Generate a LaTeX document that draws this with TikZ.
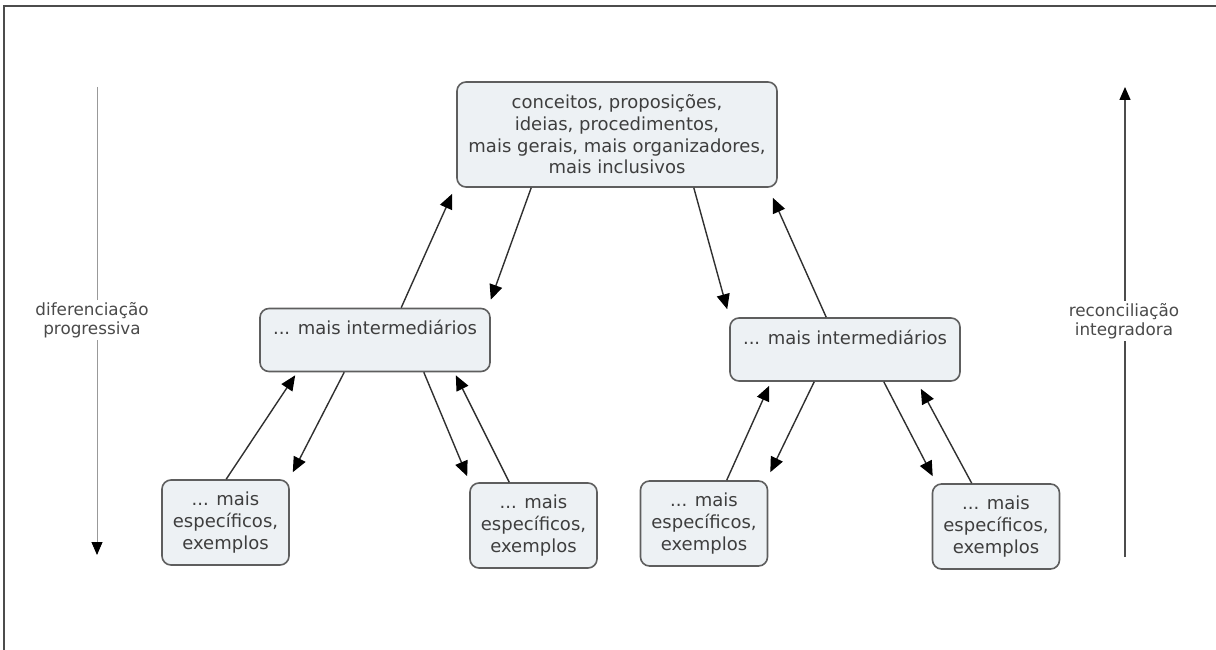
\documentclass[tikz,border=0pt]{standalone}
\usepackage{fontspec}
\setmainfont{DejaVu Sans}
\usetikzlibrary{arrows.meta,calc}
\definecolor{boxline}{HTML}{5E5E5E}
\definecolor{boxfill}{HTML}{EDF1F4}
\definecolor{txt}{HTML}{3E3E3E}
\definecolor{arrline}{HTML}{303030}
\definecolor{sidetxt}{HTML}{4A4A4A}
\begin{document}
\begin{tikzpicture}[x=1pt,y=-1pt,
  box/.style={draw=boxline, fill=boxfill, rounded corners=9pt, line width=1.6pt,
    text=txt, font=\fontsize{18}{21.7}\selectfont, align=center, inner sep=0pt},
  midbox/.style={box, minimum width=230pt, text height=26pt, text depth=37pt},
  lowbox/.style={box, minimum width=127pt, minimum height=85pt},
  arr/.style={draw=arrline, line width=1.4pt, -{Triangle[length=15pt,width=13pt,color=black]}},
  sidelab/.style={text=sidetxt, font=\fontsize{16.8}{19.5}\selectfont, align=center, inner xsep=2pt, inner ysep=2pt},
  frameline/.style={draw=black!70, line width=1.4pt}
]
\useasboundingbox (0,0) rectangle (1216,650);
\fill[white] (0,0) rectangle (1216,650);
\draw[frameline] (4,650) -- (4,6) -- (1216,6);

% nodes
\node[box, minimum width=320pt, minimum height=105pt] (top) at (617,134.5)
  {conceitos, proposições,\\ideias, procedimentos,\\mais gerais, mais organizadores,\\mais inclusivos};
\node[midbox] (lm) at (375,340) {... mais intermediários};
\node[midbox] (rm) at (845,349.5) {... mais intermediários};
\node[lowbox] (bl1) at (225.5,522.5) {... mais\\específicos,\\exemplos};
\node[lowbox] (bl2) at (533.5,525.5) {... mais\\específicos,\\exemplos};
\node[lowbox] (br1) at (704,523.5) {... mais\\específicos,\\exemplos};
\node[lowbox] (br2) at (996,526.5) {... mais\\específicos,\\exemplos};

% connectors top <-> mid
\draw[arr] ([xshift=142pt]lm.north west) -- ([xshift=-4pt,yshift=-6pt]top.south west);
\draw[arr] ([xshift=75pt]top.south west) -- ([yshift=8pt]lm.north east);
\draw[arr] ([xshift=-84pt]top.south east) -- ([xshift=-2pt,yshift=8pt]rm.north west);
\draw[arr] ([xshift=97pt]rm.north west) -- ([xshift=-5pt,yshift=-10pt]top.south east);

% connectors left mid <-> low
\draw[arr] ([xshift=65pt]bl1.north west) -- ([xshift=36pt,yshift=-3pt]lm.south west);
\draw[arr] ([xshift=85pt]lm.south west) -- ([xshift=3pt,yshift=7pt]bl1.north east);
\draw[arr] ([xshift=-67pt]lm.south east) -- ([xshift=-2pt,yshift=6pt]bl2.north west);
\draw[arr] ([xshift=40pt]bl2.north west) -- ([xshift=-35pt,yshift=-3pt]lm.south east);

% connectors right mid <-> low
\draw[arr] ([xshift=87pt]br1.north west) -- ([xshift=40pt,yshift=-4pt]rm.south west);
\draw[arr] ([xshift=85pt]rm.south west) -- ([xshift=2pt,yshift=8pt]br1.north east);
\draw[arr] ([xshift=-77pt]rm.south east) -- ([xshift=1pt,yshift=7pt]br2.north west);
\draw[arr] ([xshift=40pt]br2.north west) -- ([xshift=-40pt,yshift=-7pt]rm.south east);

% side axes
\coordinate (ltop) at (97,87);
\coordinate (lbot) at (97,555);
\node[sidelab] (dlab) at (92,320) {diferenciação\\progressiva};
\draw[draw=black!40, line width=0.9pt] (ltop) -- (ltop |- dlab.north);
\draw[draw=black!40, line width=0.9pt, -{Triangle[length=13pt,width=11pt,color=black]}] (lbot |- dlab.south) -- (lbot);

\coordinate (rtop) at (1125,87);
\coordinate (rbot) at (1125,557);
\node[sidelab] (rlab) at (1124,321) {reconciliação\\integradora};
\draw[draw=black!70, line width=1.3pt] (rbot) -- (rbot |- rlab.south);
\draw[draw=black!70, line width=1.3pt, -{Triangle[length=13pt,width=11pt,color=black]}] (rtop |- rlab.north) -- (rtop);
\end{tikzpicture}
\end{document}
